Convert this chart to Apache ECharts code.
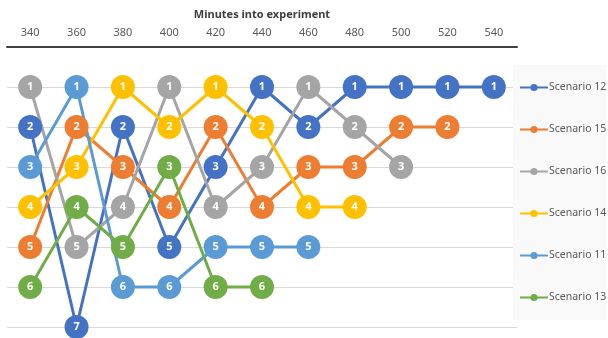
<!DOCTYPE html>
<html>
<head>
<meta charset="utf-8">
<script src="https://cdn.jsdelivr.net/npm/echarts@6/dist/echarts.min.js"></script>
<style>
  html, body { margin: 0; padding: 0; background: #ffffff; }
  #chart { width: 608px; height: 338px; }
</style>
</head>
<body>
<div id="chart"></div>
<script>
// Time points (minutes into the experiment)
const minutes = ['340', '360', '380', '400', '420', '440', '460', '480', '500', '520', '540'];

// Rank of each scenario at each time point (null = no longer ranked)
const scenario12 = [2, 7, 2, 5, 3, 1, 2, 1, 1, 1, 1];
const scenario15 = [5, 2, 3, 4, 2, 4, 3, 3, 2, 2, null];
const scenario16 = [1, 5, 4, 1, 4, 3, 1, 2, 3, null, null];
const scenario14 = [4, 3, 1, 2, 1, 2, 4, 4, null, null, null];
const scenario11 = [3, 1, 6, 6, 5, 5, 5, null, null, null, null];
const scenario13 = [6, 4, 5, 3, 6, 6, null, null, null, null, null];

const seriesNames = ['Scenario 12', 'Scenario 15', 'Scenario 16', 'Scenario 14', 'Scenario 11', 'Scenario 13'];
const seriesData = [scenario12, scenario15, scenario16, scenario14, scenario11, scenario13];
const seriesColors = ['#4472C4', '#ED7D31', '#A5A5A5', '#FFC000', '#5B9BD5', '#70AD47'];

const rankTicks = [1, 2, 3, 4, 5, 6, 7];

const FONT = 'Noto Sans';

const chart = echarts.init(document.getElementById('chart'), null, { renderer: 'canvas' });

const series = seriesNames.map((name, i) => ({
  name: name,
  type: 'line',
  data: seriesData[i],
  symbol: 'circle',
  symbolSize: 24,
  showAllSymbol: true,
  connectNulls: false,
  animation: false,
  itemStyle: { color: seriesColors[i] },
  lineStyle: { color: seriesColors[i], width: 3 },
  label: {
    show: true,
    position: 'inside',
    color: '#ffffff',
    fontFamily: FONT,
    fontSize: 11,
    fontWeight: 'bold',
    formatter: p => p.value
  },
  emphasis: { disabled: true }
}));

chart.setOption({
  animation: false,
  backgroundColor: '#ffffff',
  textStyle: { fontFamily: FONT },
  grid: { left: 7, right: 91, top: 47, bottom: 11, containLabel: false },
  xAxis: {
    type: 'category',
    position: 'top',
    data: minutes,
    boundaryGap: true,
    name: 'Minutes into experiment',
    nameLocation: 'middle',
    nameGap: 27,
    nameTextStyle: { color: '#404040', fontSize: 11, fontWeight: 'bold', fontFamily: FONT },
    axisLine: { show: true, lineStyle: { color: '#404040', width: 2 } },
    axisTick: { show: false },
    axisLabel: { color: '#595959', fontSize: 11, fontFamily: FONT, margin: 9 },
    splitLine: { show: false }
  },
  yAxis: {
    type: 'value',
    inverse: true,
    min: 0,
    max: rankTicks[rankTicks.length - 1],
    interval: 1,
    axisLine: { show: false },
    axisTick: { show: false },
    axisLabel: { show: false },
    splitLine: {
      show: true,
      lineStyle: { color: '#d9d9d9', width: 1 },
      showMinLine: false
    }
  },
  legend: {
    orient: 'vertical',
    left: 513,
    top: 65,
    backgroundColor: '#f9f9f9',
    padding: [17, 0, 17, 6],
    itemWidth: 28,
    itemHeight: 9,
    itemGap: 31,
    data: seriesNames,
    textStyle: { color: '#595959', fontSize: 10.5, fontFamily: FONT, padding: [0, 0, 0, -4] }
  },
  series: series
});
</script>
</body>
</html>
